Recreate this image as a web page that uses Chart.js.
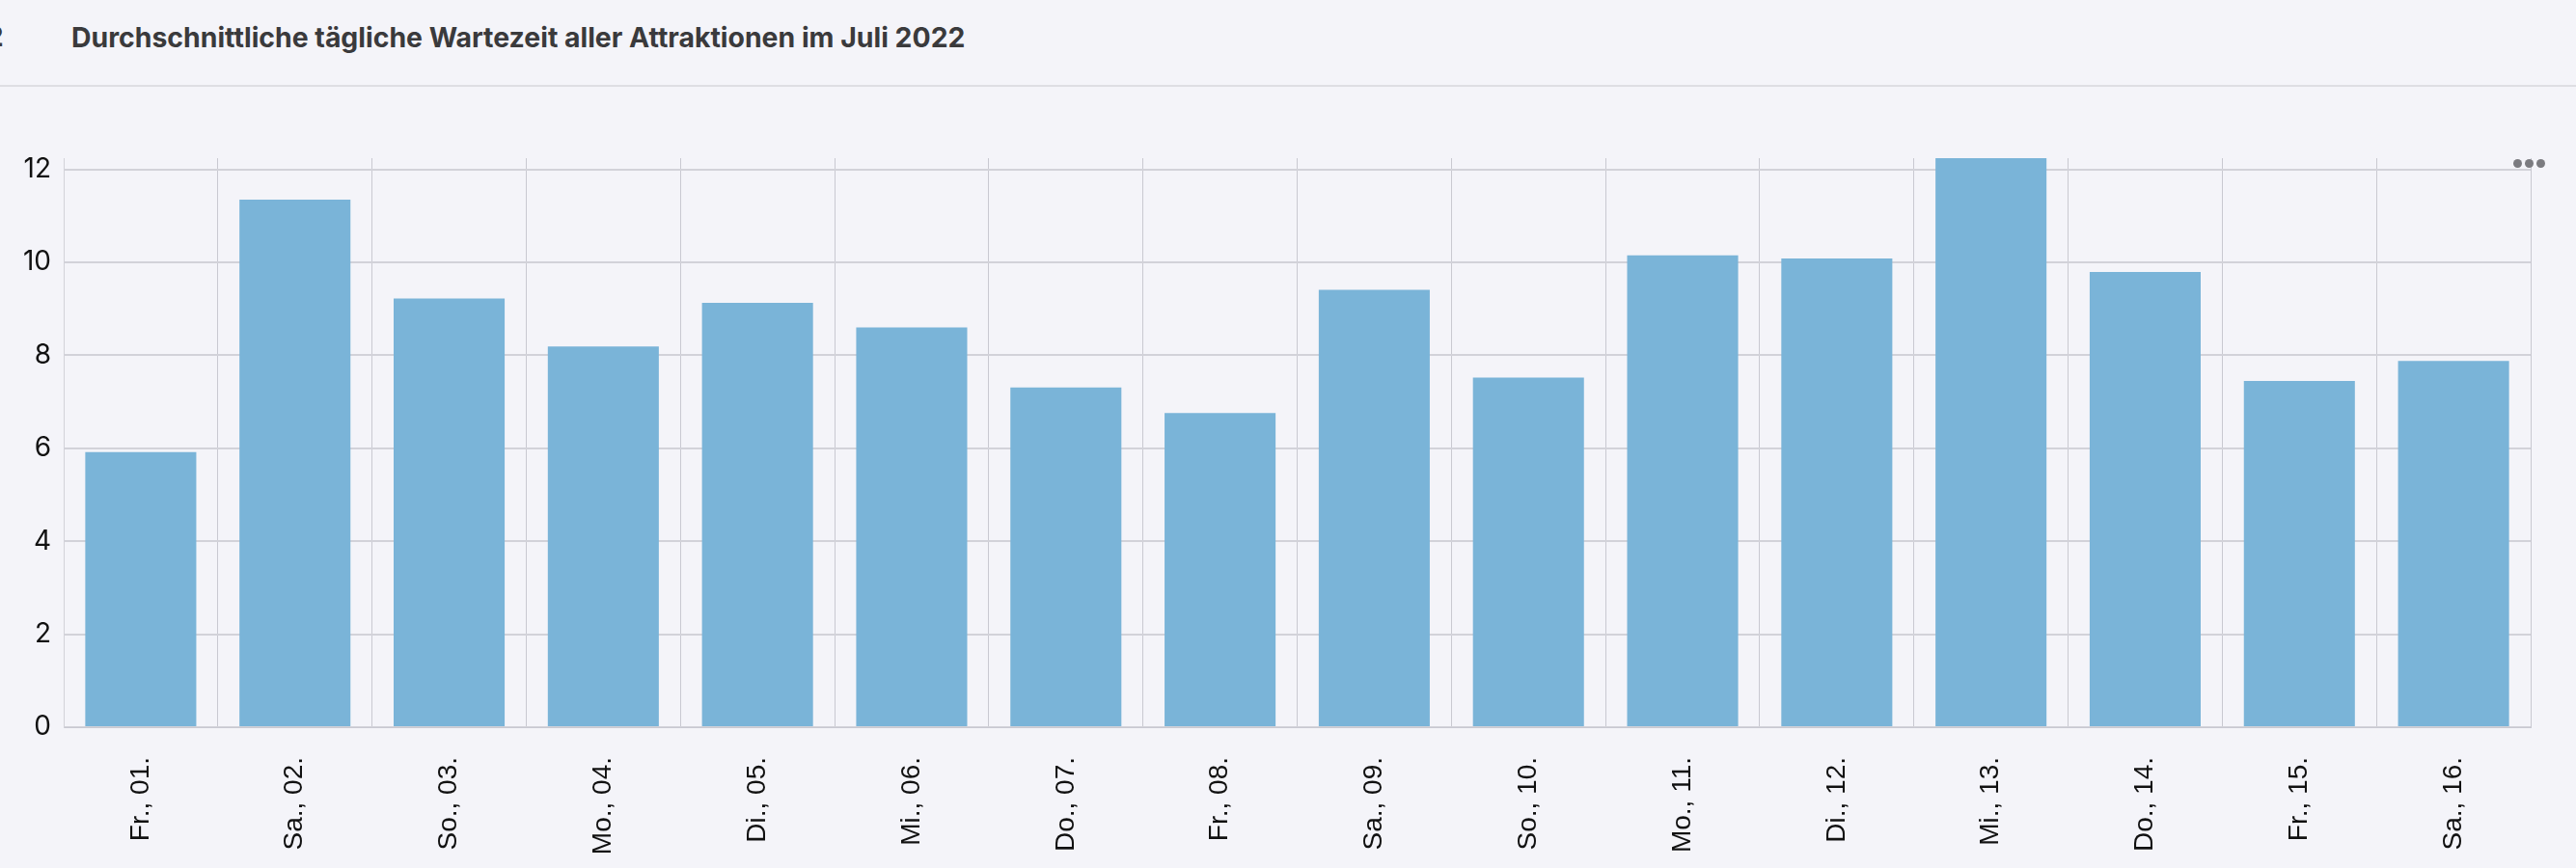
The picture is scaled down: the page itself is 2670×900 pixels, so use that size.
<!DOCTYPE html>
<html lang="de">
<head>
<meta charset="utf-8">
<title>Durchschnittliche tägliche Wartezeit</title>
<script src="https://cdn.jsdelivr.net/npm/chart.js@4.4.1/dist/chart.umd.min.js"></script>
<style>
    html, body {
        margin: 0;
        padding: 0;
        width: 2670px;
        height: 900px;
        overflow: hidden;
        background: #f4f4f9;
    }
    #chart {
        position: absolute;
        left: 0;
        top: 0;
    }
    .title {
        position: absolute;
        left: 74px;
        top: 21px;
        font: 700 28.4px "Inter", "Noto Sans", sans-serif;
        color: #3a3a3c;
        white-space: nowrap;
    }
    .cut {
        position: absolute;
        left: -14px;
        top: 21px;
        font: 700 28px "Inter", sans-serif;
        color: #3a3a3c;
    }
    .rule {
        position: absolute;
        left: 0;
        top: 88px;
        width: 2670px;
        height: 2px;
        background: #dedee3;
    }
    .menu {
        position: absolute;
        left: 2605px;
        top: 160px;
    }
    .menu span {
        display: inline-block;
        width: 9px;
        height: 9px;
        margin-right: 3px;
        border-radius: 50%;
        background: #7b7b80;
    }
</style>
</head>
<body>
<div class="cut">2</div>
<div class="title">Durchschnittliche tägliche Wartezeit aller Attraktionen im Juli 2022</div>
<div class="rule"></div>
<canvas id="chart" width="2670" height="900"></canvas>
<div class="menu"><span></span><span></span><span></span></div>

<script>
// Days of July 2022 shown on the x axis
const days = [
    "Fr., 01.", "Sa., 02.", "So., 03.", "Mo., 04.", "Di., 05.", "Mi., 06.",
    "Do., 07.", "Fr., 08.", "Sa., 09.", "So., 10.", "Mo., 11.", "Di., 12.",
    "Mi., 13.", "Do., 14.", "Fr., 15.", "Sa., 16."
];

// Average waiting time per day
const waitTimes = [
    5.92, 11.35, 9.22, 8.19, 9.13, 8.60,
    7.31, 6.76, 9.41, 7.52, 10.15, 10.08,
    12.24, 9.79, 7.45, 7.88
];

const yStep = 2;

const barColor = "#7ab4d8";
const gridColor = "#d2d2d9";
const vGridColor = "#c9c9d1";

const canvas = document.getElementById("chart");

new Chart(canvas, {
    type: "bar",
    data: {
        labels: days,
        datasets: [{
            data: waitTimes,
            backgroundColor: barColor,
            borderWidth: 0
        }]
    },
    options: {
        responsive: false,
        animation: false,
        devicePixelRatio: 1,
        layout: {
            padding: {top: 164, right: 47, left: 0, bottom: 0}
        },
        plugins: {
            legend: {display: false},
            tooltip: {enabled: false}
        },
        scales: {
            x: {
                grid: {
                    offset: true,
                    drawTicks: false,
                    lineWidth: 1,
                    // no line on the right edge of the plot
                    color: ctx => ctx.index >= days.length ? "transparent" : vGridColor
                },
                border: {display: true, color: vGridColor, width: 1},
                ticks: {
                    minRotation: 90,
                    maxRotation: 90,
                    autoSkip: false,
                    padding: 31,
                    color: "#111",
                    font: {family: "Liberation Sans", size: 28}
                },
                afterFit: scale => { scale.height = 146; }
            },
            y: {
                min: 0,
                max: Math.max(...waitTimes),
                bounds: "data",
                grid: {
                    drawTicks: false,
                    lineWidth: 2,
                    color: gridColor
                },
                border: {display: true, color: gridColor, width: 1},
                ticks: {
                    stepSize: yStep,
                    includeBounds: false,
                    padding: 13,
                    color: "#111",
                    font: {family: "Inter", size: 28}
                },
                afterFit: scale => { scale.width = 66; }
            }
        }
    }
});
</script>
</body>
</html>
